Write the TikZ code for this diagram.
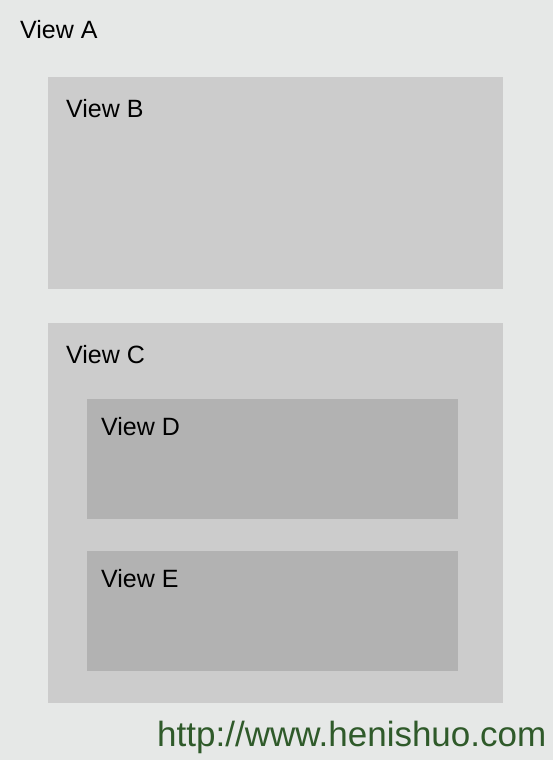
\documentclass[tikz,border=0pt]{standalone}
\usepackage{fontspec}
\setmainfont{Liberation Sans}
\definecolor{bgA}{HTML}{E6E8E7}
\definecolor{boxL}{HTML}{CCCCCC}
\definecolor{boxD}{HTML}{B2B2B2}
\definecolor{urlgreen}{HTML}{2F5A2A}
\begin{document}
\begin{tikzpicture}[x=1pt,y=-1pt,
  lbl/.style={anchor=base west, inner sep=0pt, font=\fontsize{25}{29}\selectfont, text=black}]
\useasboundingbox (0,0) rectangle (553,760);
\fill[bgA] (0,0) rectangle (553,760);
\fill[boxL] (48,77) rectangle (503,289);
\fill[boxL] (48,323) rectangle (503,703);
\fill[boxD] (87,399) rectangle (458,519);
\fill[boxD] (87,551) rectangle (458,671);
\node[lbl] (a) at (20,39) {View A};
\node[lbl] (b) at (66,117) {View B};
\node[lbl] (c) at (66,363) {View C};
\node[lbl] (d) at (101,435) {View D};
\node[lbl] (e) at (101,587) {View E};
\node[anchor=base west, inner sep=0pt, font=\fontsize{35}{40}\selectfont, text=urlgreen] (url) at (157,746) {http://www.henishuo.com};
\end{tikzpicture}
\end{document}
